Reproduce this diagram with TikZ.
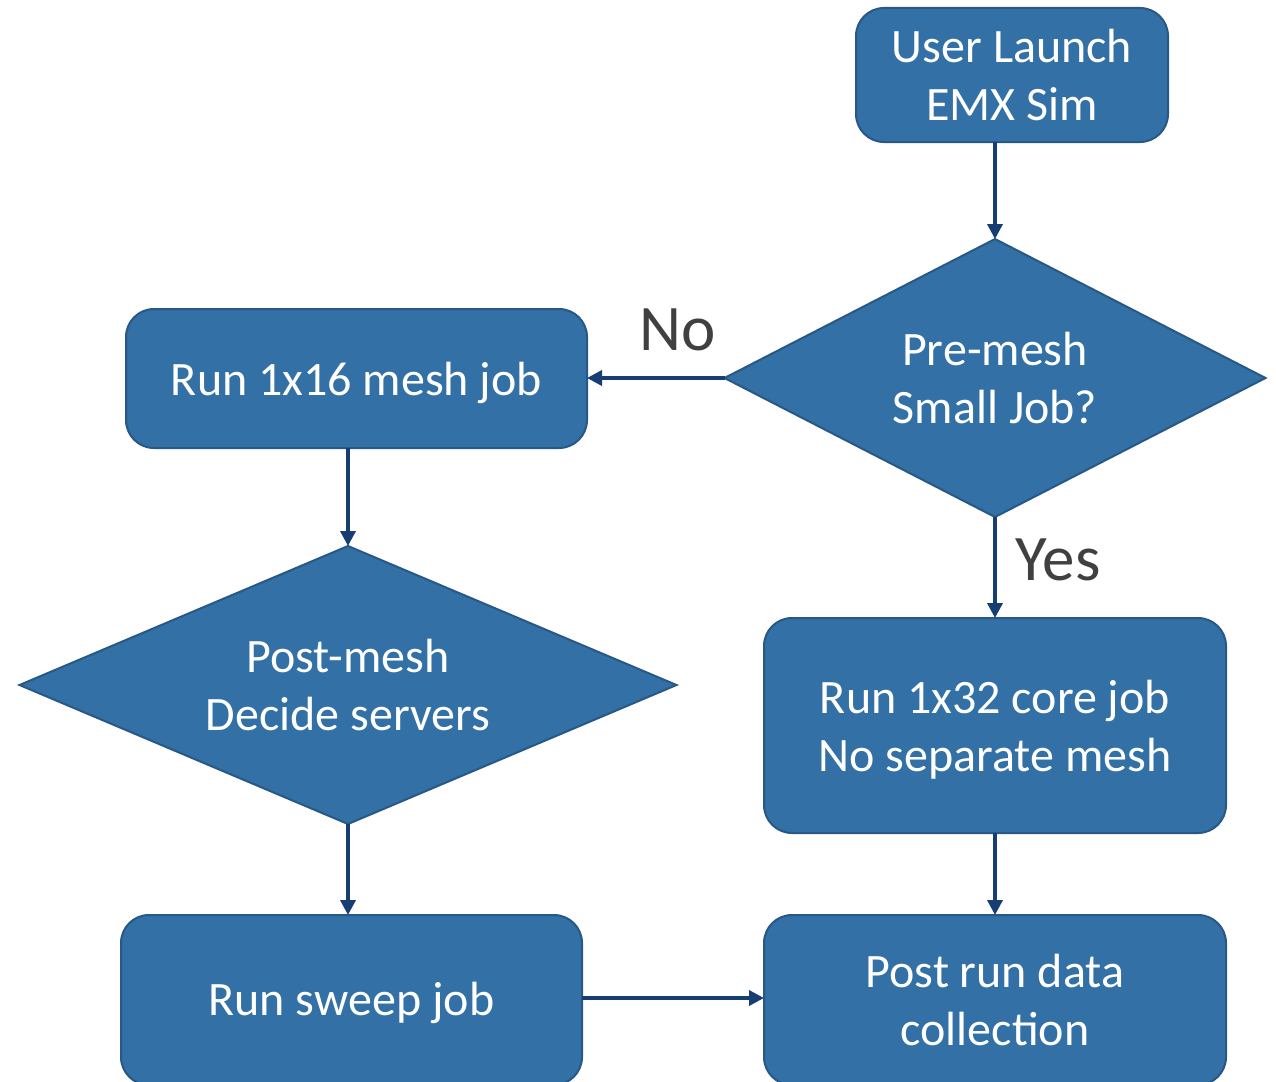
\documentclass[tikz,border=0pt]{standalone}
\usepackage{fontspec}
\setmainfont{Carlito}
\usetikzlibrary{shapes.geometric,arrows.meta}
\definecolor{boxfill}{RGB}{50,112,166}
\definecolor{boxline}{RGB}{40,88,134}
\definecolor{flow}{RGB}{22,62,115}
\definecolor{labelgray}{RGB}{64,64,64}
\tikzset{
  boxtext/.style={text=white, align=center, inner sep=0pt,
    font=\fontsize{48}{58}\selectfont},
  stepbox/.style={draw=boxline, line width=2pt, fill=boxfill, rounded corners=28pt,
    boxtext, outer sep=0pt},
  decision/.style={diamond, draw=boxline, line width=2pt, fill=boxfill,
    boxtext, outer sep=0pt},
  flowarrow/.style={draw=flow, line width=3.5pt, -{Triangle[length=15pt,width=15pt]}},
  branch/.style={text=labelgray, font=\fontsize{65}{78}\selectfont}
}
\begin{document}
\begin{tikzpicture}[x=1pt,y=-1pt]
\clip (0,0) rectangle (1276,1081);
\fill[white] (0,0) rectangle (1276,1081);

% process steps
\node[stepbox, minimum width=312pt, minimum height=134pt] (launch) at (1012,75) {User Launch\\EMX Sim};
\node[stepbox, minimum width=461pt, minimum height=139pt,
  label={[boxtext, yshift=-4pt]center:{Run 1x16 mesh job}}] (mesh) at (356.5,378.5) {};
\node[stepbox, minimum width=462pt, minimum height=215pt,
  label={[boxtext, yshift=-4pt]center:{Run 1x32 core job\\No separate mesh}}] (core) at (995,725.5) {};
\node[stepbox, minimum width=461pt, minimum height=170pt,
  label={[boxtext, yshift=-3pt]center:{Run sweep job}}] (sweep) at (351.5,1000) {};
\node[stepbox, minimum width=462pt, minimum height=170pt] (post) at (995,1000) {Post run data\\collection};

% decisions
\node[decision, aspect=1.94, minimum width=541pt, minimum height=278pt] (pre) at (995,378) {Pre-mesh\\Small Job?};
\node[decision, aspect=2.35, minimum width=657pt, minimum height=278pt] (postmesh) at (348,685) {Post-mesh\\Decide servers};

% connectors
\draw[flowarrow] (launch.south -| pre.north) -- (pre.north);
\draw[flowarrow] (pre.west) -- (pre.west -| mesh.east);
\draw[flowarrow] (mesh.south -| postmesh.north) -- (postmesh.north);
\draw[flowarrow] (pre.south) -- (pre.south |- core.north);
\draw[flowarrow] (postmesh.south) -- (postmesh.south |- sweep.north);
\draw[flowarrow] (core.south) -- (post.north);
\draw[flowarrow] (sweep.east |- 0,998) -- (post.west |- 0,998);

% branch labels
\node[branch] (no) at (678,330) {No};
\node[branch] (yes) at (1058,560) {Yes};
\end{tikzpicture}
\end{document}
